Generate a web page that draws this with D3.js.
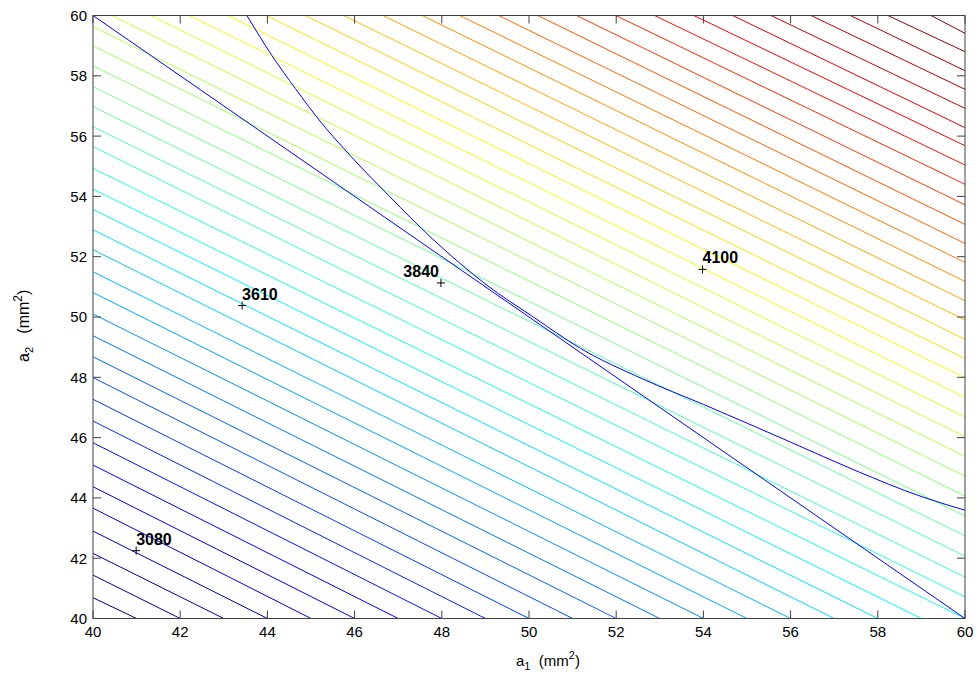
<!DOCTYPE html>
<html>
<head>
<meta charset="utf-8">
<script src="https://cdn.jsdelivr.net/npm/d3@7"></script>
<style>
  body { margin: 0; background: #fff; }
  svg { display: block; }
  text { font-family: "Liberation Sans", Arial, Helvetica, sans-serif; }
</style>
</head>
<body>
<svg id="chart" width="979" height="692"></svg>
<script>
// ---- data -------------------------------------------------------------
const a1Domain = [40, 60];
const a2Domain = [40, 60];
const xTickValues = [40, 42, 44, 46, 48, 50, 52, 54, 56, 58, 60];
const yTickValues = [40, 42, 44, 46, 48, 50, 52, 54, 56, 58, 60];

// Contour lines of the objective, lowest level first.
// Each line starts on the left edge (a1 = 40) or on the top edge (a2 = 60)
// and ends on the bottom edge (a2 = 40) or on the right edge (a1 = 60).
const leftStartA2 = [40.69, 41.44, 42.16, 42.90, 43.66, 44.37, 45.09, 45.83, 46.55, 47.27,
                     47.99, 48.68, 49.38, 50.10, 50.81, 51.50, 52.23, 52.89, 53.57, 54.24,
                     54.93, 55.65, 56.31, 56.98, 57.64, 58.33, 58.99, 59.63];
const topStartA1 = [40.43, 41.33, 42.21, 43.09, 43.97, 44.87, 45.75, 46.65, 47.55, 48.41,
                    49.30, 50.20, 51.09, 51.99, 52.88, 53.78, 54.67, 55.55, 56.47, 57.37,
                    58.23, 59.22];
const bottomEndA1 = [41, 42, 43, 44, 45, 46, 47, 48, 49, 50,
                     51, 52, 53, 54, 55, 56, 57, 58, 59, 60];
const rightEndA2 = [40.72, 41.37, 42.07, 42.74, 43.40, 44.06, 44.72, 45.38, 46.03, 46.68,
                    47.33, 47.98, 48.62, 49.26, 49.90, 50.54, 51.18, 51.81, 52.44, 53.07,
                    53.72, 54.40, 55.04, 55.68, 56.28, 56.92, 57.55, 58.17, 58.80, 59.41];

// Constraint boundaries
const constraintA = [[40, 60], [60, 40]];
const constraintB = [[43.53, 60], [44.10, 58.68], [44.64, 57.58], [45.25, 56.42], [45.75, 55.59],
                     [46.80, 54.00], [47.78, 52.60], [49.04, 51.05], [50.10, 50.00], [51.18, 48.96],
                     [52.60, 47.95], [54.00, 47.10], [56.00, 45.85], [57.50, 44.90], [58.99, 44.05],
                     [60, 43.59]];

// Labelled design points
const markA1 = [40.99, 43.42, 47.98, 53.98];
const markA2 = [42.25, 50.38, 51.13, 51.58];
const markText = ["3080", "3610", "3840", "4100"];
const markAnchor = ["start", "start", "end", "start"];

// ---- layout -----------------------------------------------------------
const svg = d3.select("#chart");
const x = d3.scaleLinear().domain(a1Domain).range([93, 965]);
const y = d3.scaleLinear().domain(a2Domain).range([618.5, 15.5]);

svg.append("rect").attr("width", 979).attr("height", 692).attr("fill", "#fff");

// MATLAB "jet" colormap
function jet(t) {
  const r = Math.min(Math.max(1.5 - Math.abs(4 * t - 3), 0), 1);
  const g = Math.min(Math.max(1.5 - Math.abs(4 * t - 2), 0), 1);
  const b = Math.min(Math.max(1.5 - Math.abs(4 * t - 1), 0), 1);
  return d3.rgb(r * 255, g * 255, b * 255).toString();
}

const starts = leftStartA2.map(v => [a1Domain[0], v]).concat(topStartA1.map(v => [v, a2Domain[1]]));
const ends = bottomEndA1.map(v => [v, a2Domain[0]]).concat(rightEndA2.map(v => [a1Domain[1], v]));
const contours = starts.map((s, i) => ({ pts: [s, ends[i]], level: i }));
const nLevels = contours.length;

const line = d3.line().x(d => x(d[0])).y(d => y(d[1]));
const smooth = d3.line().x(d => x(d[0])).y(d => y(d[1])).curve(d3.curveMonotoneX);

const plot = svg.append("g");
plot.selectAll("path.contour")
  .data(contours)
  .join("path")
  .attr("class", "contour")
  .attr("d", d => line(d.pts))
  .attr("fill", "none")
  .attr("stroke", d => jet(d.level / (nLevels - 1)))
  .attr("stroke-width", 1);

plot.append("path").attr("class", "constraint")
  .attr("d", line(constraintA))
  .attr("fill", "none").attr("stroke", "#0000ff").attr("stroke-width", 1);
plot.append("path").attr("class", "constraint")
  .attr("d", smooth(constraintB))
  .attr("fill", "none").attr("stroke", "#0000ff").attr("stroke-width", 1);

// markers and value labels
const marks = markA1.map((v, i) => ({ a1: v, a2: markA2[i], text: markText[i], anchor: markAnchor[i] }));
const mg = plot.selectAll("g.mark").data(marks).join("g").attr("class", "mark")
  .attr("transform", d => `translate(${x(d.a1)},${y(d.a2)})`);
mg.append("path").attr("d", "M-4,0H4M0,-4V4").attr("stroke", "#000").attr("stroke-width", 1);
mg.append("text")
  .attr("x", d => d.anchor === "end" ? -2 : 0)
  .attr("y", -6)
  .attr("text-anchor", d => d.anchor)
  .attr("font-size", 16).attr("font-weight", "bold").attr("fill", "#000")
  .text(d => d.text);

// ---- axes -------------------------------------------------------------
const axisColor = "#404040";
const tickLen = 8;
const axG = svg.append("g").attr("fill", "#000");

axG.append("rect")
  .attr("x", x(40)).attr("y", y(60))
  .attr("width", x(60) - x(40)).attr("height", y(40) - y(60))
  .attr("fill", "none").attr("stroke", axisColor).attr("stroke-width", 1);

const xt = axG.selectAll("g.xt").data(xTickValues).join("g").attr("class", "xt");
xt.append("line").attr("x1", d => x(d)).attr("x2", d => x(d))
  .attr("y1", y(40)).attr("y2", y(40) - tickLen).attr("stroke", axisColor);
xt.append("line").attr("x1", d => x(d)).attr("x2", d => x(d))
  .attr("y1", y(60)).attr("y2", y(60) + tickLen).attr("stroke", axisColor);
xt.append("text").attr("x", d => x(d)).attr("y", 637).attr("text-anchor", "middle")
  .attr("font-size", 15).text(d => d);

const yt = axG.selectAll("g.yt").data(yTickValues).join("g").attr("class", "yt");
yt.append("line").attr("y1", d => y(d)).attr("y2", d => y(d))
  .attr("x1", x(40)).attr("x2", x(40) + tickLen).attr("stroke", axisColor);
yt.append("line").attr("y1", d => y(d)).attr("y2", d => y(d))
  .attr("x1", x(60)).attr("x2", x(60) - tickLen).attr("stroke", axisColor);
yt.append("text").attr("x", 87).attr("y", d => y(d)).attr("dy", "0.36em").attr("text-anchor", "end")
  .attr("font-size", 15).text(d => d);

// axis titles
const xl = svg.append("text").attr("x", 516).attr("y", 666).attr("text-anchor", "start")
  .attr("font-size", 15).attr("fill", "#000");
xl.append("tspan").text("a");
xl.append("tspan").attr("font-size", 11).attr("dy", 4).text("1");
xl.append("tspan").attr("dy", -4).text("\u00a0\u00a0(mm");
xl.append("tspan").attr("font-size", 11).attr("dy", -7).text("2");
xl.append("tspan").attr("dy", 7).text(")");

const yl = svg.append("text").attr("transform", "translate(29,362) rotate(-90)")
  .attr("text-anchor", "start").attr("font-size", 16).attr("fill", "#000");
yl.append("tspan").text("a");
yl.append("tspan").attr("font-size", 11).attr("dy", 4).text("2");
yl.append("tspan").attr("dy", -4).text("\u00a0\u00a0\u00a0(mm");
yl.append("tspan").attr("font-size", 12).attr("dy", -7).text("2");
yl.append("tspan").attr("dy", 7).text(")");
</script>
</body>
</html>
